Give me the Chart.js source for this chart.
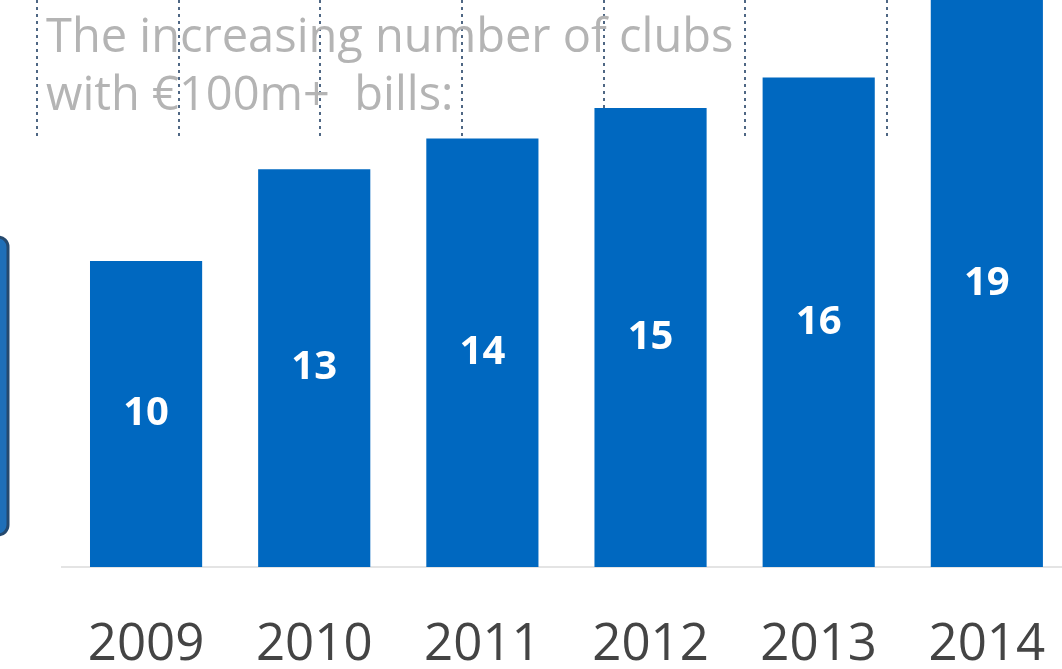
<!DOCTYPE html>
<html lang="en">
<head>
  <meta charset="UTF-8">
  <title>Clubs with €100m+ bills</title>
  <script src="https://cdn.jsdelivr.net/npm/chart.js"></script>
  <style>
    html, body {
      margin: 0;
      padding: 0;
      background: #ffffff;
      overflow: hidden;
    }
    #wrap {
      position: relative;
      width: 1096px;
      height: 669px;
    }
  </style>
</head>
<body>
  <div id="wrap">
    <canvas id="clubsChart" width="1096" height="669"></canvas>
  </div>
  <script>
    // data
    const years = ['2009', '2010', '2011', '2012', '2013', '2014'];
    const clubs = [10, 13, 14, 15, 16, 19];
    const titleLines = ['The increasing number of clubs', 'with €100m+  bills:'];

    const barBlue = '#0068c0';

    // background bits: dotted guides, the grey caption and the box edge on the left
    const backdrop = {
      id: 'backdrop',
      beforeDatasetsDraw(chart) {
        const ctx = chart.ctx;
        ctx.save();
        // rounded box peeking in from the left
        ctx.fillStyle = '#1f6fb8';
        ctx.strokeStyle = '#25496e';
        ctx.lineWidth = 3;
        ctx.beginPath();
        ctx.roundRect(-40, 237, 48, 298, 10);
        ctx.fill();
        ctx.stroke();

        // dotted guide lines
        ctx.strokeStyle = '#4f6784';
        ctx.lineWidth = 2;
        ctx.setLineDash([3, 4]);
        [37, 179, 320, 462, 604, 745, 887].forEach(x => {
          ctx.beginPath();
          ctx.moveTo(x, 0);
          ctx.lineTo(x, 140);
          ctx.stroke();
        });
        ctx.setLineDash([]);

        // caption
        ctx.fillStyle = '#b4b4b4';
        ctx.font = '47px "Open Sans", sans-serif';
        ctx.textBaseline = 'alphabetic';
        ctx.fillText(titleLines[0], 46, 52);
        ctx.fillText(titleLines[1], 46, 110);
        ctx.restore();
      }
    };

    // value labels in the middle of the visible part of each bar
    const barValues = {
      id: 'barValues',
      afterDatasetsDraw(chart) {
        const ctx = chart.ctx;
        const area = chart.chartArea;
        const meta = chart.getDatasetMeta(0);
        ctx.save();
        ctx.fillStyle = '#ffffff';
        ctx.font = 'bold 40px "Open Sans", sans-serif';
        ctx.textAlign = 'center';
        ctx.textBaseline = 'middle';
        meta.data.forEach((bar, i) => {
          const top = Math.max(bar.y, area.top);
          const y = (top + bar.base) / 2;
          ctx.fillText(String(clubs[i]), bar.x, y);
        });
        ctx.restore();
      }
    };

    const ctx = document.getElementById('clubsChart').getContext('2d');
    new Chart(ctx, {
      type: 'bar',
      data: {
        labels: years,
        datasets: [{
          label: 'Clubs',
          data: clubs,
          backgroundColor: barBlue,
          borderWidth: 0,
          categoryPercentage: 1,
          barPercentage: 0.667
        }]
      },
      options: {
        responsive: false,
        animation: false,
        layout: {
          padding: { left: 62, right: 10, top: 0, bottom: 0 }
        },
        plugins: {
          legend: { display: false },
          tooltip: { enabled: false }
        },
        scales: {
          x: {
            grid: { display: false, drawTicks: false },
            border: { display: true, color: '#e4e4e4', width: 2 },
            ticks: {
              color: '#444444',
              padding: 50,
              font: { family: '"Open Sans", sans-serif', size: 51, lineHeight: 1.1 }
            },
            afterFit(scale) {
              scale.height = 102;
            }
          },
          y: {
            display: false,
            min: 0,
            max: 18.53
          }
        }
      },
      plugins: [backdrop, barValues]
    });
  </script>
</body>
</html>
